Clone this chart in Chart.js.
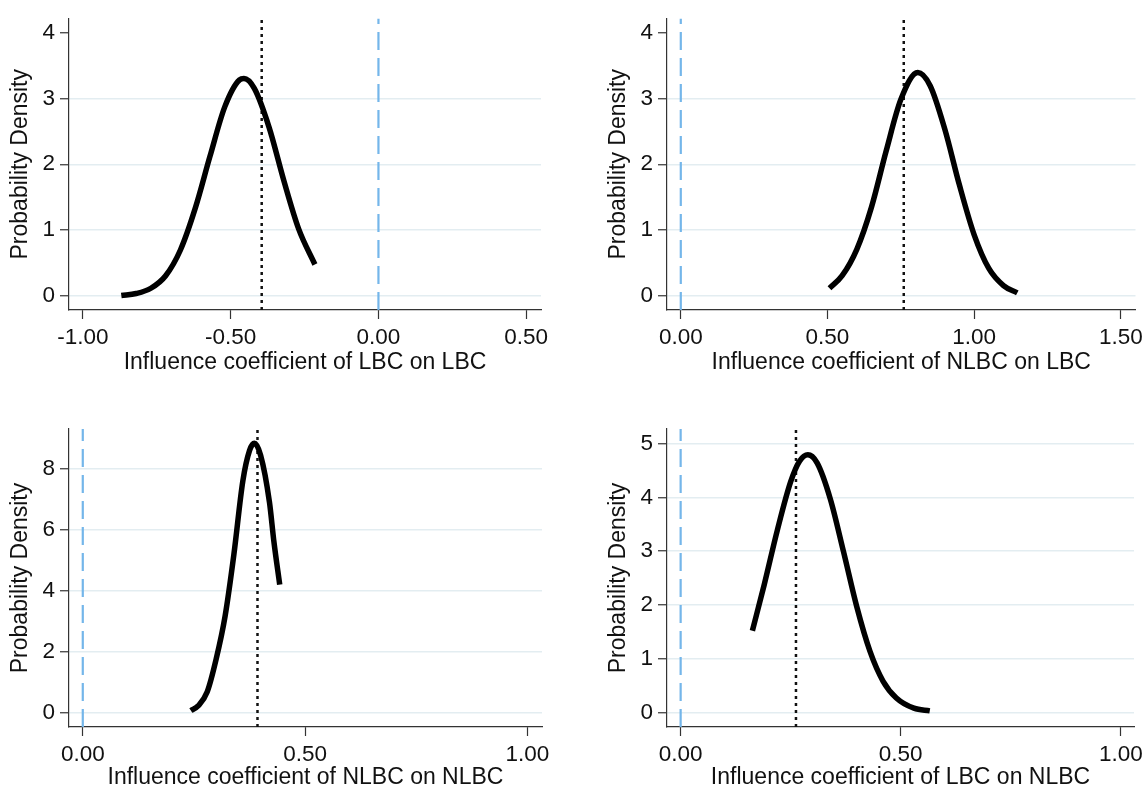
<!DOCTYPE html>
<html>
<head>
<meta charset="utf-8">
<script src="https://cdn.jsdelivr.net/npm/chart.js@4.4.1/dist/chart.umd.min.js"></script>
<style>
  body { margin: 0; background: #fff; }
  #wrap { position: relative; width: 1148px; height: 791px; }
  canvas { position: absolute; }
</style>
</head>
<body>
<div id="wrap">
  <canvas id="p1" width="574" height="395" style="left:0;top:0"></canvas>
  <canvas id="p2" width="574" height="395" style="left:574px;top:0"></canvas>
  <canvas id="p3" width="574" height="396" style="left:0;top:395px"></canvas>
  <canvas id="p4" width="574" height="396" style="left:574px;top:395px"></canvas>
</div>
<script>
// LBC on LBC
var p1X = [-0.87, -0.82, -0.77, -0.72, -0.67, -0.62, -0.57, -0.52, -0.47, -0.455, -0.42, -0.37, -0.32, -0.27, -0.215];
var p1Y = [0.01, 0.04, 0.12, 0.31, 0.70, 1.33, 2.12, 2.87, 3.28, 3.30, 3.15, 2.56, 1.75, 1.02, 0.48];
var p1Mean = -0.395;
var p1XTicks = [-1, -0.5, 0, 0.5];
var p1YTicks = [0, 1, 2, 3, 4];

// NLBC on LBC
var p2X = [0.507, 0.55, 0.60, 0.65, 0.70, 0.75, 0.808, 0.85, 0.90, 0.95, 1.00, 1.05, 1.10, 1.147];
var p2Y = [0.12, 0.31, 0.71, 1.35, 2.20, 2.98, 3.39, 3.19, 2.53, 1.68, 0.93, 0.42, 0.16, 0.05];
var p2Mean = 0.76;
var p2XTicks = [0, 0.5, 1, 1.5];
var p2YTicks = [0, 1, 2, 3, 4];

// NLBC on NLBC
var p3X = [0.243, 0.26, 0.28, 0.30, 0.32, 0.34, 0.36, 0.375, 0.386, 0.40, 0.42, 0.43, 0.443];
var p3Y = [0.06, 0.22, 0.68, 1.75, 3.15, 5.2, 7.6, 8.6, 8.84, 8.45, 6.9, 5.6, 4.2];
var p3Mean = 0.393;
var p3XTicks = [0, 0.5, 1];
var p3YTicks = [0, 2, 4, 6, 8];

// LBC on NLBC
var p4X = [0.163, 0.19, 0.22, 0.25, 0.27, 0.289, 0.31, 0.34, 0.37, 0.40, 0.43, 0.46, 0.49, 0.53, 0.566];
var p4Y = [1.52, 2.38, 3.40, 4.29, 4.67, 4.79, 4.64, 3.97, 2.99, 1.97, 1.14, 0.58, 0.27, 0.08, 0.03];
var p4Mean = 0.262;
var p4XTicks = [0, 0.5, 1];
var p4YTicks = [0, 1, 2, 3, 4, 5];

var FONT = "'Liberation Sans', Arial, sans-serif";
var AXIS = '#333333';
var GRID = '#e3edf1';

function makePanel(id, o) {
  var canvas = document.getElementById(id);
  var pts = o.x.map(function(v, i) { return { x: v, y: o.y[i] }; });

  new Chart(canvas, {
    type: 'line',
    data: {
      datasets: [{
        data: pts,
        borderColor: '#000',
        borderWidth: 5.5,
        borderCapStyle: 'butt',
        cubicInterpolationMode: 'monotone',
        pointRadius: 0
      }, {
        data: [{ x: o.mean, y: o.yMin }, { x: o.mean, y: o.yMax }],
        borderColor: '#111',
        borderWidth: 2.5,
        borderDash: [3, 4],
        pointRadius: 0
      }, {
        data: [{ x: 0, y: o.yMin }, { x: 0, y: o.yMax }],
        borderColor: '#74b6ea',
        borderWidth: 2.2,
        borderDash: [18, 8],
        pointRadius: 0
      }]
    },
    options: {
      responsive: false,
      animation: false,
      events: [],
      layout: { padding: { left: o.padLeft, right: o.padRight, top: o.padTop, bottom: 0 } },
      plugins: { legend: { display: false }, tooltip: { enabled: false } },
      scales: {
        x: {
          type: 'linear',
          min: o.xMin,
          max: o.xMax,
          afterBuildTicks: function(scale) {
            scale.ticks = o.xTicks.map(function(v) { return { value: v }; });
          },
          afterFit: function(scale) { scale.height = o.xHeight; },
          grid: { drawOnChartArea: false, tickLength: 9, tickColor: AXIS, tickWidth: 1.2 },
          border: { color: AXIS, width: 1.2 },
          ticks: {
            padding: 5,
            color: '#111',
            font: { family: FONT, size: 22.5 },
            maxRotation: 0,
            callback: function(v) { return v.toFixed(2); }
          },
          title: {
            display: true,
            text: o.xTitle,
            color: '#111',
            font: { family: FONT, size: 23 },
            padding: { top: 0, bottom: o.titlePad }
          }
        },
        y: {
          type: 'linear',
          min: o.yMin,
          max: o.yMax,
          afterBuildTicks: function(scale) {
            scale.ticks = o.yTicks.map(function(v) { return { value: v }; });
          },
          afterFit: function(scale) { scale.width = 69; },
          grid: {
            color: function(ctx) {
              if (ctx.tick && o.noGrid.indexOf(ctx.tick.value) >= 0) return 'rgba(0,0,0,0)';
              return GRID;
            },
            lineWidth: 1.5,
            tickLength: 9,
            tickColor: AXIS,
            tickWidth: 1.2
          },
          border: { color: AXIS, width: 1.2 },
          ticks: {
            padding: 5,
            color: '#111',
            font: { family: FONT, size: 22.5 },
            callback: function(v) { return String(v); }
          },
          title: {
            display: true,
            text: 'Probability Density',
            color: '#111',
            font: { family: FONT, size: 23 },
            padding: { top: 7, bottom: 0 }
          }
        }
      }
    }
  });
}

makePanel('p1', {
  x: p1X, y: p1Y, mean: p1Mean, xTicks: p1XTicks, yTicks: p1YTicks,
  xMin: -1.047, xMax: 0.55, yMin: -0.21, yMax: 4.21, noGrid: [4],
  xTitle: 'Influence coefficient of LBC on LBC',
  padLeft: 0, padRight: 33, padTop: 14, xHeight: 85, titlePad: 19
});
makePanel('p2', {
  x: p2X, y: p2Y, mean: p2Mean, xTicks: p2XTicks, yTicks: p2YTicks,
  xMin: -0.047, xMax: 1.55, yMin: -0.21, yMax: 4.21, noGrid: [4],
  xTitle: 'Influence coefficient of NLBC on LBC',
  padLeft: 24, padRight: 8, padTop: 14, xHeight: 85, titlePad: 19
});
makePanel('p3', {
  x: p3X, y: p3Y, mean: p3Mean, xTicks: p3XTicks, yTicks: p3YTicks,
  xMin: -0.031, xMax: 1.033, yMin: -0.48, yMax: 9.31, noGrid: [],
  xTitle: 'Influence coefficient of NLBC on NLBC',
  padLeft: 0, padRight: 32, padTop: 34, xHeight: 64, titlePad: 0
});
makePanel('p4', {
  x: p4X, y: p4Y, mean: p4Mean, xTicks: p4XTicks, yTicks: p4YTicks,
  xMin: -0.031, xMax: 1.03, yMin: -0.27, yMax: 5.27, noGrid: [],
  xTitle: 'Influence coefficient of LBC on NLBC',
  padLeft: 24, padRight: 10, padTop: 34, xHeight: 64, titlePad: 0
});
</script>
</body>
</html>
